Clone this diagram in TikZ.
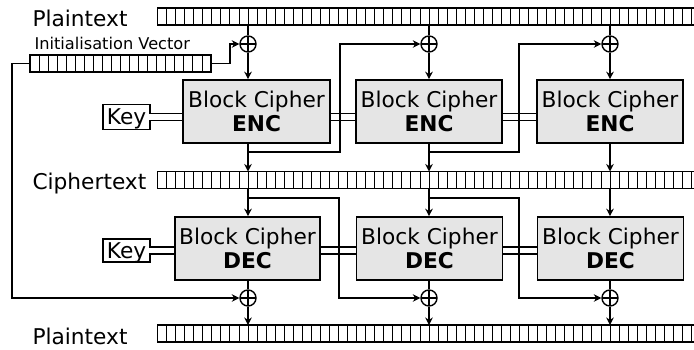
\documentclass[tikz,border=0pt]{standalone}
\usepackage{fontspec}
\setmainfont{DejaVu Sans}
\usetikzlibrary{arrows.meta}

\begin{document}
\begin{tikzpicture}[
	x=1pt, y=-1pt,
	font=\fontsize{21.7}{24}\selectfont,
	>={Stealth[length=7.5pt,width=7.5pt]},
	wire/.style={ line width=1.4pt },
	cellbar/.style={ draw, line width=1.7pt, outer sep=0pt, inner sep=0pt, minimum width=181pt, minimum height=17pt,
		path picture={ \foreach \k in {1,...,19} \draw[line width=0.9pt] ([xshift=\k*9.05pt]path picture bounding box.north west) -- ([xshift=\k*9.05pt]path picture bounding box.south west); } },
	cipher/.style={ draw, line width=1.6pt, fill=black!10, align=center, inner sep=0pt, minimum width=146pt, minimum height=63pt },
	keybox/.style={ draw, line width=1.4pt, inner sep=0pt, text depth=0pt, minimum width=47pt, minimum height=25pt },
	xor/.style={ circle, draw, line width=1.4pt, fill=white, inner sep=0pt, minimum size=16pt,
		path picture={ \draw[line width=1.4pt] (path picture bounding box.north) -- (path picture bounding box.south) (path picture bounding box.west) -- (path picture bounding box.east); } },
	keybus/.style={ double, double distance=5.5pt, line width=1.4pt }
]
\useasboundingbox (0,0) rectangle (694,349);

% encryption
\node at (29,26) [anchor=base west] (ptop) {Plaintext};
\node at (248,16.5) (p1) [cellbar] {};
\node at (429,16.5) (p2) [cellbar] {};
\node at (610,16.5) (p3) [cellbar] {};
\node at (31,49) [anchor=base west, font=\fontsize{16.2}{18}\selectfont] (ivtext) {Initialisation Vector};
\node at (120.5,63.5) (iv) [cellbar] {};
\node at (248,44) (x1) [xor] {};
\node at (429,44) (x2) [xor] {};
\node at (610,44) (x3) [xor] {};
\node at (256.5,111.5) (e1) [cipher, minimum width=147pt] {Block Cipher\\\textbf{ENC}};
\node at (429,111.5) (e2) [cipher] {Block Cipher\\\textbf{ENC}};
\node at (610,111.5) (e3) [cipher] {Block Cipher\\\textbf{ENC}};
\node at (126.5,117) (k1) [keybox] {Key};
\node at (29,189) [anchor=base west] (ctext) {Ciphertext};
\node at (248,180) (c1) [cellbar] {};
\node at (429,180) (c2) [cellbar] {};
\node at (610,180) (c3) [cellbar] {};
\coordinate (f1) at (340,152);
\coordinate (f2) at (519,152);

% decryption
\node at (247.5,248.5) (d1) [cipher, minimum width=145pt] {Block Cipher\\\textbf{DEC}};
\node at (429.5,248.5) (d2) [cipher] {Block Cipher\\\textbf{DEC}};
\node at (610.5,248.5) (d3) [cipher] {Block Cipher\\\textbf{DEC}};
\node at (126.5,250.5) (k2) [keybox, minimum height=23pt] {Key};
\node at (248,298) (y1) [xor] {};
\node at (429,298) (y2) [xor] {};
\node at (610,298) (y3) [xor] {};
\node at (29,344) [anchor=base west] (pbot) {Plaintext};
\node at (248,333.5) (q1) [cellbar] {};
\node at (429,333.5) (q2) [cellbar] {};
\node at (610,333.5) (q3) [cellbar] {};
\coordinate (g1) at (339,198);
\coordinate (g2) at (519,198);

\draw[keybus] ([xshift=-1.5pt]k1.east) -- (k1.east -| e1.west);
\draw[keybus] (e1.east |- k1.east) -- (e2.west |- k1.east);
\draw[keybus] (e2.east |- k1.east) -- (e3.west |- k1.east);
\draw[keybus] ([xshift=-1.5pt]k2.east) -- (k2.east -| d1.west);
\draw[keybus] (d1.east |- k2.east) -- (d2.west |- k2.east);
\draw[keybus] (d2.east |- k2.east) -- (d3.west |- k2.east);

\draw[wire] (x1 |- p1.south) -- (x1.north);
\draw[wire] (x2 |- p2.south) -- (x2.north);
\draw[wire] (x3 |- p3.south) -- (x3.north);
\draw[wire,->] (iv.east) -- ++(19,0) |- (x1.west);
\draw[wire,->] (x1.south) -- (x1 |- e1.north);
\draw[wire,->] (x2.south) -- (x2 |- e2.north);
\draw[wire,->] (x3.south) -- (x3 |- e3.north);
\draw[wire,->] (x1 |- e1.south) -- (x1 |- c1.north);
\draw[wire,->] (x2 |- e2.south) -- (x2 |- c2.north);
\draw[wire,->] (x3 |- e3.south) -- (x3 |- c3.north);
\draw[wire,->] (x1 |- f1) -- (f1) |- (x2.west);
\draw[wire,->] (x2 |- f2) -- (f2) |- (x3.west);

\draw[wire,->] (x1 |- c1.south) -- (x1 |- d1.north);
\draw[wire,->] (x2 |- c2.south) -- (x2 |- d2.north);
\draw[wire,->] (x3 |- c3.south) -- (x3 |- d3.north);
\draw[wire,->] (x1 |- g1) -- (g1) |- (y2.west);
\draw[wire,->] (x2 |- g2) -- (g2) |- (y3.west);
\draw[wire] (y1 |- d1.south) -- (y1.north);
\draw[wire] (y2 |- d2.south) -- (y2.north);
\draw[wire] (y3 |- d3.south) -- (y3.north);
\draw[wire,->] (y1.south) -- (y1 |- q1.north);
\draw[wire,->] (y2.south) -- (y2 |- q2.north);
\draw[wire,->] (y3.south) -- (y3 |- q3.north);
\draw[wire,->] (iv.west) -- ++(-18,0) |- (y1.west);

\end{tikzpicture}
\end{document}
